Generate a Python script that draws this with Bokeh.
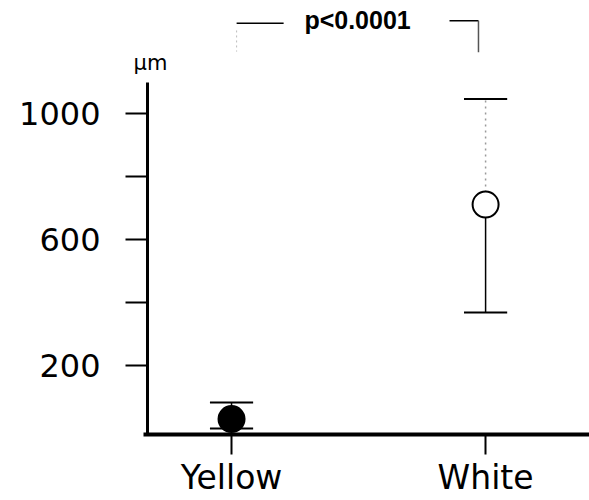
from bokeh.plotting import figure
from bokeh.models import FixedTicker, Range1d, ColumnDataSource, Label
from bokeh.core.properties import value
from bokeh.embed import file_html
from bokeh.resources import INLINE

# ---- data ----
categories = ["Yellow", "White"]
means = [30, 710]
upper = [83, 1045]
lower = [0, 368]
y_ticks = [200, 400, 600, 800, 1000]
y_tick_labels = {200: "200", 400: "", 600: "600", 800: "", 1000: "1000"}
unit_label = "\u03bcm"
p_label = "p<0.0001"

xs = [i + 1 for i in range(len(categories))]

FONT = "DejaVu Sans"
CAP = 0.085
Y_AXIS_AT = 0.6693   # data x where the y axis stands
X_AXIS_AT = -19      # data y where the x axis lies

p = figure(width=589, height=500, output_backend="svg", toolbar_location=None,
           x_range=Range1d(0.0906, 2.409), y_range=Range1d(-228, 1357),
           min_border_left=0, min_border_right=0, min_border_top=0,
           min_border_bottom=0)
p.outline_line_color = None
p.grid.visible = False
p.background_fill_color = "white"
p.border_fill_color = "white"

# y axis
ya = p.yaxis[0]
ya.fixed_location = Y_AXIS_AT
ya.ticker = FixedTicker(ticks=y_ticks)
ya.major_label_overrides = y_tick_labels
ya.bounds = (X_AXIS_AT, 1097)
ya.axis_line_width = 3
ya.axis_line_color = "black"
ya.major_tick_line_width = 2
ya.major_tick_out = 22
ya.major_tick_in = 0
ya.minor_tick_line_color = None
ya.major_label_standoff = 25
ya.major_label_text_font = FONT
ya.major_label_text_font_size = "32px"
ya.major_label_text_color = "black"

# x axis
xa = p.xaxis[0]
xa.fixed_location = X_AXIS_AT
xa.ticker = FixedTicker(ticks=xs)
xa.major_label_overrides = {x: c for x, c in zip(xs, categories)}
xa.bounds = (0.654, 2.409)
xa.axis_line_width = 4
xa.axis_line_color = "black"
xa.major_tick_line_width = 2
xa.major_tick_out = 20
xa.major_tick_in = 0
xa.minor_tick_line_color = None
xa.major_label_standoff = 3
xa.major_label_text_font = FONT
xa.major_label_text_font_size = "33px"
xa.major_label_text_color = "black"

# error bars: lower stems (solid)
p.segment(x0=xs, y0=lower, x1=xs, y1=means, line_color="black", line_width=1.5)
# upper stems: Yellow solid, White faint dotted
p.segment(x0=[xs[0]], y0=[means[0]], x1=[xs[0]], y1=[upper[0]],
          line_color="black", line_width=1.5)
p.segment(x0=[xs[1]], y0=[means[1]], x1=[xs[1]], y1=[upper[1]],
          line_color="#9a9a9a", line_width=1.5, line_dash="2 4")
# caps
p.segment(x0=[x - CAP for x in xs], y0=upper, x1=[x + CAP for x in xs], y1=upper,
          line_color="black", line_width=2)
p.segment(x0=[x - CAP for x in xs], y0=lower, x1=[x + CAP for x in xs], y1=lower,
          line_color="black", line_width=2)

# means
src = ColumnDataSource(dict(x=xs, y=means, fill=["black", "white"]))
p.scatter("x", "y", source=src, size=26, marker="circle",
          fill_color="fill", line_color="black", line_width=2)

# significance bracket
BR_Y = 1285
p.segment(x0=[xs[0] + 0.02], y0=[BR_Y], x1=[xs[0] + 0.205], y1=[BR_Y],
          line_color="black", line_width=1.5)
p.segment(x0=[xs[1] - 0.142], y0=[BR_Y + 8], x1=[xs[1] - 0.028], y1=[BR_Y + 8],
          line_color="black", line_width=1.5)
p.segment(x0=[xs[1] - 0.028], y0=[BR_Y + 8], x1=[xs[1] - 0.028], y1=[1193],
          line_color="#555555", line_width=1.5)
p.segment(x0=[xs[0] + 0.02], y0=[1262], x1=[xs[0] + 0.02], y1=[1195],
          line_color="#bbbbbb", line_width=1, line_dash="2 3")
p.text(x=[(xs[0] + xs[1]) / 2 - 0.004], y=[1294], text=[p_label],
       text_font=value("Liberation Sans"), text_font_style="bold",
       text_font_size="25px", text_align="center", text_baseline="middle",
       text_color="black")

# unit label
p.add_layout(Label(x=0.681, y=1158, text=unit_label, text_font=FONT,
                   text_font_size="21px", text_align="center",
                   text_baseline="middle", text_color="black"))

open("out.html", "w").write(file_html(p, INLINE))
